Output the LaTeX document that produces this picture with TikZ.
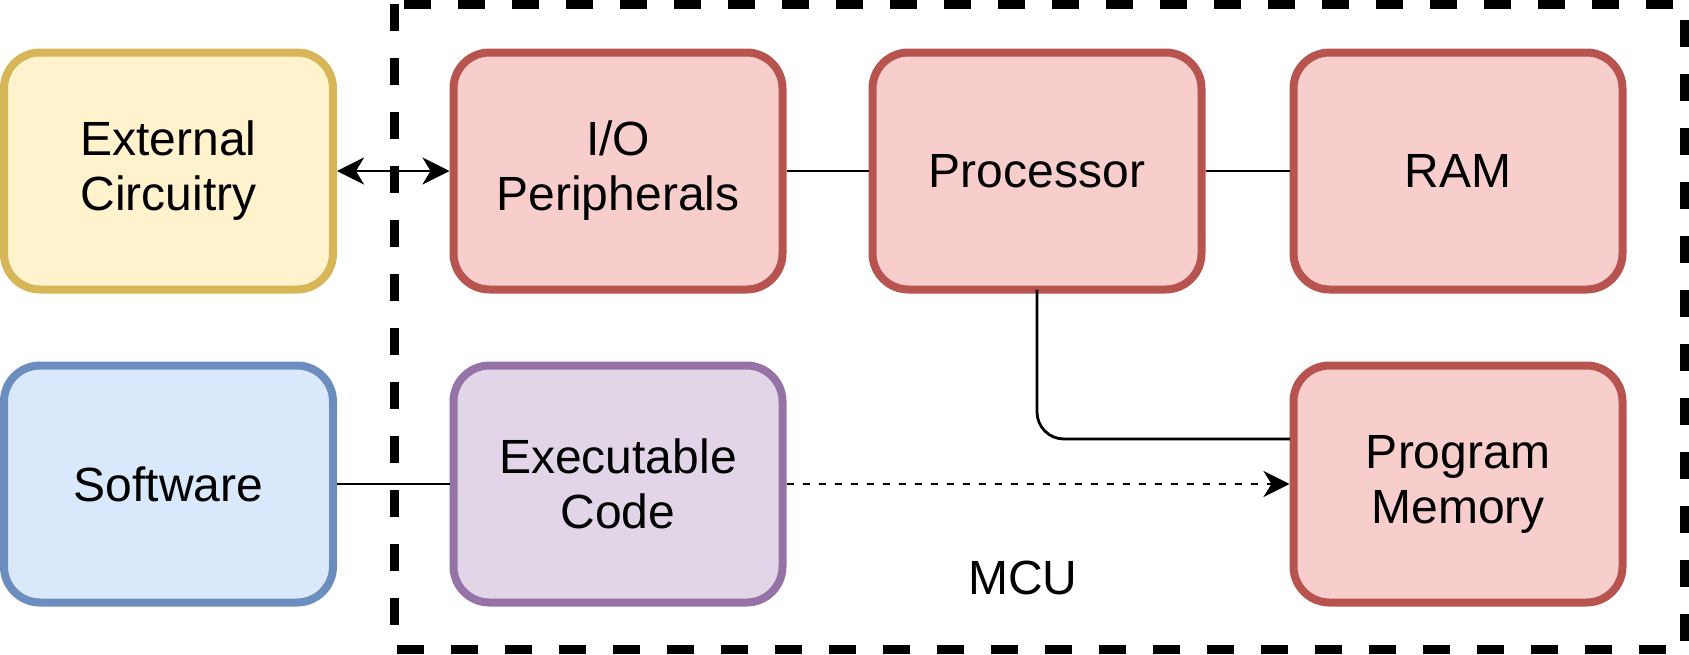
\documentclass[tikz,border=0pt]{standalone}
\usepackage{fontspec}
\setmainfont{Liberation Sans}
\usetikzlibrary{arrows.meta}
\definecolor{yfill}{HTML}{FFF2CC}\definecolor{ydraw}{HTML}{D6B656}
\definecolor{rfill}{HTML}{F8CECC}\definecolor{rdraw}{HTML}{B85450}
\definecolor{bfill}{HTML}{DAE8FC}\definecolor{bdraw}{HTML}{6C8EBF}
\definecolor{pfill}{HTML}{E1D5E7}\definecolor{pdraw}{HTML}{9673A6}
\tikzset{
  box/.style={rectangle, rounded corners=36pt, line width=8pt, minimum width=329pt, minimum height=237pt,
    inner sep=0pt, align=center, font=\fontsize{48}{55}\selectfont},
  ybox/.style={box, draw=ydraw, fill=yfill},
  rbox/.style={box, draw=rdraw, fill=rfill},
  bbox/.style={box, draw=bdraw, fill=bfill},
  pbox/.style={box, draw=pdraw, fill=pfill},
  conn/.style={line width=2.8pt, black},
  mcubox/.style={draw, line width=9pt, dash pattern=on 27pt off 27pt},
  lbl/.style={font=\fontsize{48}{55}\selectfont, inner sep=0pt}
}
\begin{document}
\begin{tikzpicture}[x=1pt, y=-1pt]
\useasboundingbox (0,0) rectangle (1689,654);
\draw[mcubox] (394,4) rectangle (1684,649.5);
\node[lbl] (mculabel) at (1023,578) {MCU};
\node[ybox] (ext) at (168.5,171) {External\\Circuitry};
\node[rbox] (io) at (618,171) {I/O\\Peripherals};
\node[rbox] (proc) at (1037,171) {Processor};
\node[rbox] (ram) at (1458,171) {RAM};
\node[bbox] (sw) at (168.5,484) {Software};
\node[pbox] (exe) at (618,484) {Executable\\Code};
\node[rbox] (pm) at (1458,484) {Program\\Memory};
\coordinate (pmin) at (1290,439);
\draw[conn, {Stealth[length=27pt, width=27pt, inset=8pt]}-{Stealth[length=27pt, width=27pt, inset=8pt]}] (ext.east) -- (io.west);
\draw[conn] (io.east) -- (proc.west);
\draw[conn] (proc.east) -- (ram.west);
\draw[conn, rounded corners=27pt] ([yshift=4pt]proc.south) |- (pmin);
\draw[conn] (sw.east) -- (exe.west);
\draw[conn, dash pattern=on 7pt off 9pt, -{Stealth[length=26pt, width=26pt, inset=8pt]}] (exe.east) -- (pm.west);
\end{tikzpicture}
\end{document}
